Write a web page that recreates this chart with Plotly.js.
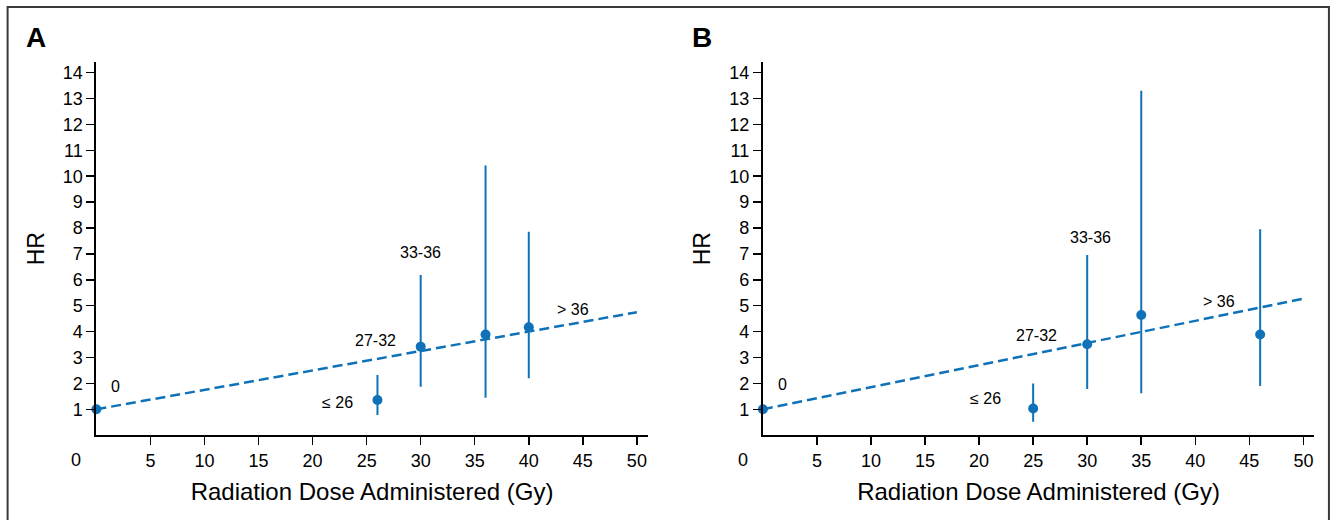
<!DOCTYPE html>
<html>
<head>
<meta charset="utf-8">
<script src="https://cdn.plot.ly/plotly-3.0.1.min.js"></script>
<style>
html,body{margin:0;padding:0;background:#fff;}
#chart{width:1332px;height:520px;}
</style>
</head>
<body>
<div id="chart"></div>
<script>
// ---- Data ----
const doseA  = [0, 26, 30, 36, 40];
const hrA    = [1, 1.36, 3.42, 3.89, 4.17];
const upperA = [1, 2.32, 6.19, 10.41, 7.86];
const lowerA = [1, 0.78, 1.87, 1.45, 2.2];

const doseB  = [0, 25, 30, 35, 46];
const hrB    = [1, 1.03, 3.51, 4.64, 3.89];
const upperB = [1, 2.0, 6.96, 13.3, 7.95];
const lowerB = [1, 0.52, 1.78, 1.62, 1.9];

const trendDose = [0, 50];
const trendA = [1, 4.75];
const trendB = [1, 5.27];

const groupLabels = ['0', '≤ 26', '27-32', '33-36', '> 36'];
const labelXA = [1.8, 22.3, 25.8, 30.0, 44.1];
const labelYA = [1.87, 1.27, 3.64, 7.05, 4.85];
const labelXB = [1.8, 20.6, 25.3, 30.3, 42.2];
const labelYB = [1.94, 1.40, 3.84, 7.63, 5.18];

const xTicks = [5, 10, 15, 20, 25, 30, 35, 40, 45, 50];
const yTicks = [1, 2, 3, 4, 5, 6, 7, 8, 9, 10, 11, 12, 13, 14];
const panelNames = ['A', 'B'];

// ---- Styling ----
const BLUE = '#0f72b8';
const FONT = 'Liberation Sans, Arial, sans-serif';

function pointTrace(x, y, up, lo, xa, ya) {
  return {
    type: 'scatter', mode: 'markers', x: x, y: y, xaxis: xa, yaxis: ya,
    marker: {color: BLUE, size: 10},
    error_y: {
      type: 'data', symmetric: false,
      array: up.map((u, i) => u - y[i]),
      arrayminus: lo.map((l, i) => y[i] - l),
      color: BLUE, thickness: 2, width: 0
    },
    cliponaxis: false, showlegend: false, hoverinfo: 'x+y'
  };
}
function trendTrace(y, xa, ya) {
  return {
    type: 'scatter', mode: 'lines', x: trendDose, y: y, xaxis: xa, yaxis: ya,
    line: {color: BLUE, width: 2.5, dash: '10px,5px'},
    showlegend: false, hoverinfo: 'skip'
  };
}

const traces = [
  trendTrace(trendA, 'x', 'y'),
  pointTrace(doseA, hrA, upperA, lowerA, 'x', 'y'),
  trendTrace(trendB, 'x2', 'y2'),
  pointTrace(doseB, hrB, upperB, lowerB, 'x2', 'y2')
];

function xAxis(domain, anchor) {
  return {
    domain: domain, anchor: anchor, range: [0, 51],
    showline: true, linecolor: '#000', linewidth: 2,
    ticks: 'outside', ticklen: 8, tickwidth: 1.5, tickcolor: '#000',
    tickvals: xTicks, showgrid: false, zeroline: false,
    tickfont: {family: FONT, size: 18, color: '#000'},
    title: {text: 'Radiation Dose Administered (Gy)', standoff: 13,
            font: {family: FONT, size: 24, color: '#000'}}
  };
}
function yAxis(domain, anchor) {
  return {
    domain: domain, anchor: anchor, range: [0, 14.4],
    showline: true, linecolor: '#000', linewidth: 2,
    ticks: 'outside', ticklen: 8, tickwidth: 1.5, tickcolor: '#000',
    tickvals: yTicks, showgrid: false, zeroline: false,
    tickfont: {family: FONT, size: 18, color: '#000'},
    title: {text: 'HR', standoff: 12,
            font: {family: FONT, size: 23, color: '#000'}}
  };
}

const annotations = [];
function addLabels(xs, ys, xref, yref) {
  groupLabels.forEach((t, i) => {
    annotations.push({
      x: xs[i], y: ys[i], xref: xref, yref: yref, text: t, showarrow: false,
      xanchor: 'center', yanchor: 'middle',
      font: {family: FONT, size: 16, color: '#000'}
    });
  });
  // shared origin tick label "0", offset left of the axis
  annotations.push({
    x: 0, y: 0, xref: xref, yref: yref, text: '0', showarrow: false,
    xanchor: 'center', yanchor: 'top', xshift: -20, yshift: -13,
    font: {family: FONT, size: 18, color: '#000'}
  });
}
addLabels(labelXA, labelYA, 'x', 'y');
addLabels(labelXB, labelYB, 'x2', 'y2');

// panel letters
[[0.027, panelNames[0]], [0.527, panelNames[1]]].forEach(p => {
  annotations.push({
    x: p[0], y: 0.927, xref: 'paper', yref: 'paper', text: '<b>' + p[1] + '</b>',
    showarrow: false, xanchor: 'center', yanchor: 'middle',
    font: {family: FONT, size: 28, color: '#000'}
  });
});

const yDom = [0.1631, 0.8802];
const layout = {
  width: 1332, height: 520,
  margin: {l: 0, r: 0, t: 0, b: 0},
  paper_bgcolor: '#fff', plot_bgcolor: '#fff',
  showlegend: false,
  xaxis: xAxis([0.07237, 0.48626], 'y'),
  yaxis: yAxis(yDom, 'x'),
  xaxis2: xAxis([0.57275, 0.98664], 'y2'),
  yaxis2: yAxis(yDom, 'x2'),
  annotations: annotations,
  shapes: [{
    type: 'rect', xref: 'paper', yref: 'paper',
    x0: 0.0057, x1: 0.9977, y0: -0.05, y1: 0.9865,
    line: {color: '#3a3a3a', width: 2}, fillcolor: 'rgba(0,0,0,0)', layer: 'below'
  }]
};

Plotly.newPlot('chart', traces, layout, {staticPlot: true, displayModeBar: false});
</script>
</body>
</html>
